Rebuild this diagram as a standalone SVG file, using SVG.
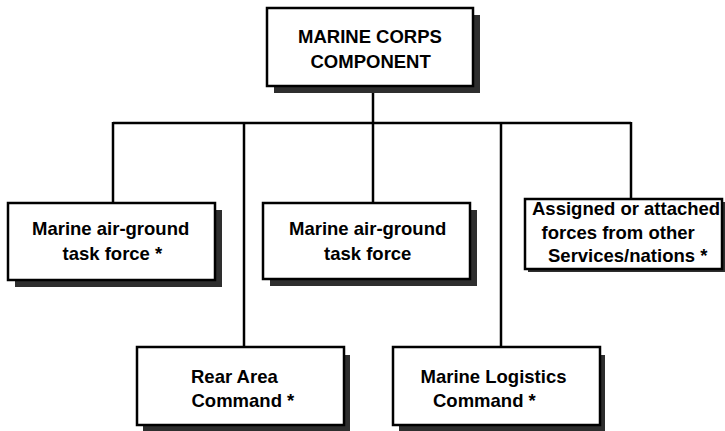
<svg xmlns="http://www.w3.org/2000/svg" width="725" height="431" viewBox="0 0 725 431">
<style>
.box{fill:#fff;stroke:#000;stroke-width:2.5}
.sh{fill:#2e2e2e}
.t{font-family:"Liberation Sans",Arial,sans-serif;font-weight:bold;font-size:18.5px;fill:#000}
.c{fill:none;stroke:#000;stroke-width:2.5}
</style>
<rect width="725" height="431" fill="#fff"/>
<g id="connectors">
<line class="c" x1="373" y1="86" x2="373" y2="203"/>
<line class="c" x1="113" y1="123" x2="631" y2="123"/>
<line class="c" x1="113" y1="122" x2="113" y2="203"/>
<line class="c" x1="244" y1="122" x2="244" y2="347"/>
<line class="c" x1="501" y1="122" x2="501" y2="347"/>
<line class="c" x1="631" y1="122" x2="631" y2="199"/>
</g>
<g id="marine-corps-component">
<rect class="sh" x="274" y="15" width="206" height="78"/>
<rect class="box" x="267" y="8" width="206" height="78"/>
<text class="t" x="298" y="43">MARINE CORPS</text>
<text class="t" x="310.5" y="68">COMPONENT</text>
</g>
<g id="magtf-1">
<rect class="sh" x="15" y="210" width="207" height="77"/>
<rect class="box" x="8" y="203" width="207" height="77"/>
<text class="t" x="32" y="235">Marine air-ground</text>
<text class="t" x="62.5" y="260">task force *</text>
</g>
<g id="magtf-2">
<rect class="sh" x="270" y="210" width="207" height="76"/>
<rect class="box" x="263" y="203" width="207" height="76"/>
<text class="t" x="289" y="235">Marine air-ground</text>
<text class="t" x="324" y="260">task force</text>
</g>
<g id="assigned-forces">
<rect class="sh" x="528" y="202" width="197" height="70"/>
<rect class="box" x="525" y="199" width="197" height="70"/>
<text class="t" x="532" y="215">Assigned or attached</text>
<text class="t" x="541.5" y="238.5">forces from other</text>
<text class="t" x="548" y="262">Services/nations *</text>
</g>
<g id="rear-area-command">
<rect class="sh" x="143" y="355" width="207" height="78"/>
<rect class="box" x="137" y="347" width="207" height="78"/>
<text class="t" x="191" y="383">Rear Area</text>
<text class="t" x="191.5" y="407">Command *</text>
</g>
<g id="marine-logistics-command">
<rect class="sh" x="399" y="355" width="206" height="78"/>
<rect class="box" x="393" y="347" width="207" height="78"/>
<text class="t" x="420.5" y="383">Marine Logistics</text>
<text class="t" x="433" y="407">Command *</text>
</g>
</svg>
